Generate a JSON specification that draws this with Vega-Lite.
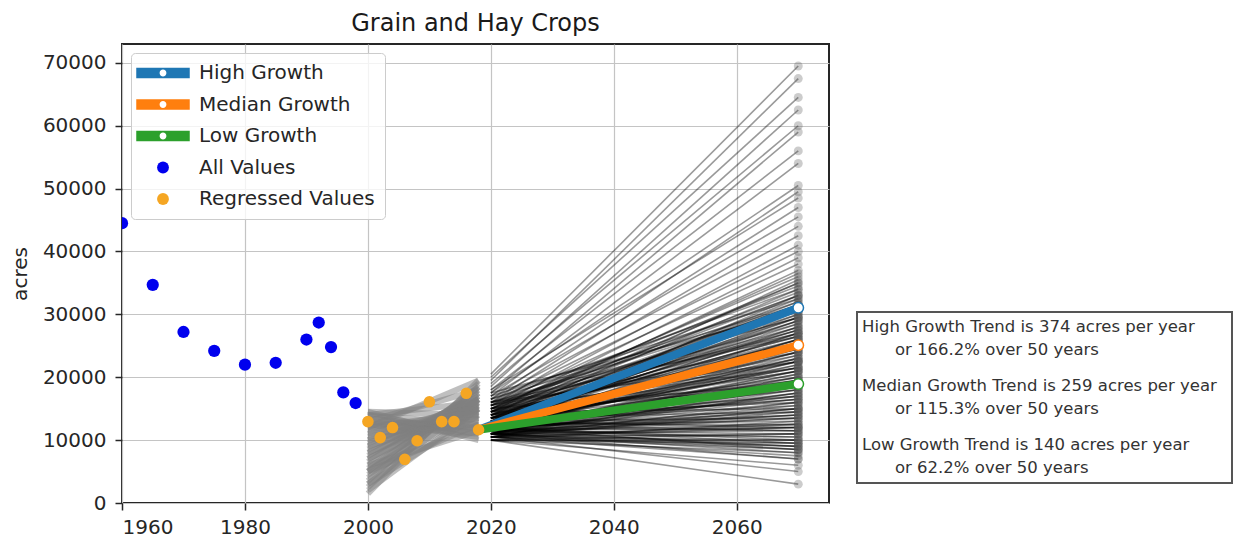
{
  "$schema": "https://vega.github.io/schema/vega-lite/v6.json",
  "background": "white",
  "padding": {"left": 9, "top": 11, "right": 0, "bottom": 0},
  "config": {
    "font": "DejaVu Sans",
    "view": {"stroke": null},
    "axis": {
      "grid": true, "gridColor": "#c4c4c4", "gridWidth": 1.2, "zindex": 1,
      "domain": false, "ticks": true, "tickSize": 7, "tickColor": "#262626", "tickWidth": 1.5,
      "labelFontSize": 20, "labelColor": "#262626", "labelFont": "DejaVu Sans",
      "titleFontSize": 20, "titleFontWeight": "normal", "titleColor": "#262626", "titleFont": "DejaVu Sans"
    }
  },
  "datasets": {
    "obs": [
      {"year": 1960, "acres": 44500, "series": "All Values"},
      {"year": 1965, "acres": 34700, "series": "All Values"},
      {"year": 1970, "acres": 27200, "series": "All Values"},
      {"year": 1975, "acres": 24200, "series": "All Values"},
      {"year": 1980, "acres": 22000, "series": "All Values"},
      {"year": 1985, "acres": 22300, "series": "All Values"},
      {"year": 1990, "acres": 26000, "series": "All Values"},
      {"year": 1992, "acres": 28700, "series": "All Values"},
      {"year": 1994, "acres": 24800, "series": "All Values"},
      {"year": 1996, "acres": 17600, "series": "All Values"},
      {"year": 1998, "acres": 15900, "series": "All Values"}
    ],
    "reg": [
      {"year": 2000, "acres": 12950, "series": "Regressed Values"},
      {"year": 2002, "acres": 10400, "series": "Regressed Values"},
      {"year": 2004, "acres": 12000, "series": "Regressed Values"},
      {"year": 2006, "acres": 6950, "series": "Regressed Values"},
      {"year": 2008, "acres": 9900, "series": "Regressed Values"},
      {"year": 2010, "acres": 16100, "series": "Regressed Values"},
      {"year": 2012, "acres": 12950, "series": "Regressed Values"},
      {"year": 2014, "acres": 12950, "series": "Regressed Values"},
      {"year": 2016, "acres": 17450, "series": "Regressed Values"},
      {"year": 2018, "acres": 11650, "series": "Regressed Values"}
    ],
    "growth": [
      {"series": "High Growth", "year": 2018, "acres": 11650},
      {"series": "High Growth", "year": 2070, "acres": 31050},
      {"series": "Median Growth", "year": 2018, "acres": 11650},
      {"series": "Median Growth", "year": 2070, "acres": 25100},
      {"series": "Low Growth", "year": 2018, "acres": 11650},
      {"series": "Low Growth", "year": 2070, "acres": 18920}
    ],
    "fits": [
      {"fit":1,"year":2000,"acres":1500},{"fit":1,"year":2018,"acres":19500},
      {"fit":2,"year":2000,"acres":2500},{"fit":2,"year":2018,"acres":18500},
      {"fit":3,"year":2000,"acres":3500},{"fit":3,"year":2018,"acres":19000},
      {"fit":4,"year":2000,"acres":4000},{"fit":4,"year":2018,"acres":17500},
      {"fit":5,"year":2000,"acres":5000},{"fit":5,"year":2018,"acres":18500},
      {"fit":6,"year":2000,"acres":5500},{"fit":6,"year":2018,"acres":17000},
      {"fit":7,"year":2000,"acres":6500},{"fit":7,"year":2018,"acres":18000},
      {"fit":8,"year":2000,"acres":7000},{"fit":8,"year":2018,"acres":16500},
      {"fit":9,"year":2000,"acres":7500},{"fit":9,"year":2018,"acres":17500},
      {"fit":10,"year":2000,"acres":8000},{"fit":10,"year":2018,"acres":16000},
      {"fit":11,"year":2000,"acres":8500},{"fit":11,"year":2018,"acres":17000},
      {"fit":12,"year":2000,"acres":9000},{"fit":12,"year":2018,"acres":15500},
      {"fit":13,"year":2000,"acres":9500},{"fit":13,"year":2018,"acres":16500},
      {"fit":14,"year":2000,"acres":10000},{"fit":14,"year":2018,"acres":15000},
      {"fit":15,"year":2000,"acres":10500},{"fit":15,"year":2018,"acres":14000},
      {"fit":16,"year":2000,"acres":11000},{"fit":16,"year":2018,"acres":15500},
      {"fit":17,"year":2000,"acres":11500},{"fit":17,"year":2018,"acres":13500},
      {"fit":18,"year":2000,"acres":12000},{"fit":18,"year":2018,"acres":14500},
      {"fit":19,"year":2000,"acres":12500},{"fit":19,"year":2018,"acres":13000},
      {"fit":20,"year":2000,"acres":13000},{"fit":20,"year":2018,"acres":12000},
      {"fit":21,"year":2000,"acres":13500},{"fit":21,"year":2018,"acres":11500},
      {"fit":22,"year":2000,"acres":14000},{"fit":22,"year":2018,"acres":11000},
      {"fit":23,"year":2000,"acres":14500},{"fit":23,"year":2018,"acres":10000},
      {"fit":24,"year":2000,"acres":13000},{"fit":24,"year":2018,"acres":10500},
      {"fit":25,"year":2000,"acres":12000},{"fit":25,"year":2018,"acres":12000},
      {"fit":26,"year":2000,"acres":11000},{"fit":26,"year":2018,"acres":12500},
      {"fit":27,"year":2000,"acres":10000},{"fit":27,"year":2018,"acres":13500},
      {"fit":28,"year":2000,"acres":9000},{"fit":28,"year":2018,"acres":14500},
      {"fit":29,"year":2000,"acres":8000},{"fit":29,"year":2018,"acres":15000},
      {"fit":30,"year":2000,"acres":7000},{"fit":30,"year":2018,"acres":15500},
      {"fit":31,"year":2000,"acres":6000},{"fit":31,"year":2018,"acres":16000},
      {"fit":32,"year":2000,"acres":5000},{"fit":32,"year":2018,"acres":16500},
      {"fit":33,"year":2000,"acres":4500},{"fit":33,"year":2018,"acres":15000},
      {"fit":34,"year":2000,"acres":3000},{"fit":34,"year":2018,"acres":16500},
      {"fit":35,"year":2000,"acres":14000},{"fit":35,"year":2018,"acres":12500},
      {"fit":36,"year":2000,"acres":12500},{"fit":36,"year":2018,"acres":11000},
      {"fit":37,"year":2000,"acres":3000},{"fit":37,"year":2018,"acres":14000},
      {"fit":38,"year":2000,"acres":5000},{"fit":38,"year":2018,"acres":12500},
      {"fit":39,"year":2000,"acres":6000},{"fit":39,"year":2018,"acres":11500},
      {"fit":40,"year":2000,"acres":2000},{"fit":40,"year":2018,"acres":15000},
      {"fit":41,"year":2000,"acres":14000},{"fit":41,"year":2018,"acres":16000},
      {"fit":42,"year":2000,"acres":13000},{"fit":42,"year":2018,"acres":18000},
      {"fit":43,"year":2000,"acres":12000},{"fit":43,"year":2018,"acres":19500},
      {"fit":44,"year":2000,"acres":14500},{"fit":44,"year":2018,"acres":14000}
    ],
    "proj": [
      {"sim":1,"year":2020,"acres":20500},{"sim":1,"year":2070,"acres":69500},
      {"sim":2,"year":2020,"acres":19500},{"sim":2,"year":2070,"acres":67500},
      {"sim":3,"year":2020,"acres":20000},{"sim":3,"year":2070,"acres":64500},
      {"sim":4,"year":2020,"acres":18500},{"sim":4,"year":2070,"acres":62500},
      {"sim":5,"year":2020,"acres":19000},{"sim":5,"year":2070,"acres":60000},
      {"sim":6,"year":2020,"acres":17500},{"sim":6,"year":2070,"acres":59000},
      {"sim":7,"year":2020,"acres":18000},{"sim":7,"year":2070,"acres":56000},
      {"sim":8,"year":2020,"acres":17000},{"sim":8,"year":2070,"acres":54000},
      {"sim":9,"year":2020,"acres":17500},{"sim":9,"year":2070,"acres":50500},
      {"sim":10,"year":2020,"acres":16500},{"sim":10,"year":2070,"acres":49500},
      {"sim":11,"year":2020,"acres":18000},{"sim":11,"year":2070,"acres":48500},
      {"sim":12,"year":2020,"acres":16000},{"sim":12,"year":2070,"acres":47000},
      {"sim":13,"year":2020,"acres":17000},{"sim":13,"year":2070,"acres":45500},
      {"sim":14,"year":2020,"acres":15500},{"sim":14,"year":2070,"acres":44000},
      {"sim":15,"year":2020,"acres":16500},{"sim":15,"year":2070,"acres":42500},
      {"sim":16,"year":2020,"acres":15000},{"sim":16,"year":2070,"acres":41000},
      {"sim":17,"year":2020,"acres":16000},{"sim":17,"year":2070,"acres":40000},
      {"sim":18,"year":2020,"acres":14500},{"sim":18,"year":2070,"acres":39000},
      {"sim":19,"year":2020,"acres":15500},{"sim":19,"year":2070,"acres":38000},
      {"sim":20,"year":2020,"acres":14000},{"sim":20,"year":2070,"acres":37000},
      {"sim":21,"year":2020,"acres":15000},{"sim":21,"year":2070,"acres":36000},
      {"sim":22,"year":2020,"acres":14000},{"sim":22,"year":2070,"acres":35000},
      {"sim":23,"year":2020,"acres":16000},{"sim":23,"year":2070,"acres":34500},
      {"sim":24,"year":2020,"acres":13500},{"sim":24,"year":2070,"acres":34000},
      {"sim":25,"year":2020,"acres":15000},{"sim":25,"year":2070,"acres":33500},
      {"sim":26,"year":2020,"acres":14500},{"sim":26,"year":2070,"acres":33000},
      {"sim":27,"year":2020,"acres":13000},{"sim":27,"year":2070,"acres":32500},
      {"sim":28,"year":2020,"acres":15500},{"sim":28,"year":2070,"acres":32000},
      {"sim":29,"year":2020,"acres":14000},{"sim":29,"year":2070,"acres":31500},
      {"sim":30,"year":2020,"acres":13000},{"sim":30,"year":2070,"acres":31000},
      {"sim":31,"year":2020,"acres":12500},{"sim":31,"year":2070,"acres":30500},
      {"sim":32,"year":2020,"acres":14500},{"sim":32,"year":2070,"acres":30000},
      {"sim":33,"year":2020,"acres":13500},{"sim":33,"year":2070,"acres":29500},
      {"sim":34,"year":2020,"acres":12000},{"sim":34,"year":2070,"acres":29000},
      {"sim":35,"year":2020,"acres":15000},{"sim":35,"year":2070,"acres":28500},
      {"sim":36,"year":2020,"acres":13000},{"sim":36,"year":2070,"acres":28000},
      {"sim":37,"year":2020,"acres":12500},{"sim":37,"year":2070,"acres":27500},
      {"sim":38,"year":2020,"acres":14000},{"sim":38,"year":2070,"acres":27000},
      {"sim":39,"year":2020,"acres":13500},{"sim":39,"year":2070,"acres":26500},
      {"sim":40,"year":2020,"acres":12000},{"sim":40,"year":2070,"acres":26000},
      {"sim":41,"year":2020,"acres":11500},{"sim":41,"year":2070,"acres":25500},
      {"sim":42,"year":2020,"acres":13000},{"sim":42,"year":2070,"acres":25000},
      {"sim":43,"year":2020,"acres":14500},{"sim":43,"year":2070,"acres":24500},
      {"sim":44,"year":2020,"acres":12500},{"sim":44,"year":2070,"acres":24000},
      {"sim":45,"year":2020,"acres":11500},{"sim":45,"year":2070,"acres":23500},
      {"sim":46,"year":2020,"acres":13500},{"sim":46,"year":2070,"acres":23000},
      {"sim":47,"year":2020,"acres":12000},{"sim":47,"year":2070,"acres":22500},
      {"sim":48,"year":2020,"acres":11000},{"sim":48,"year":2070,"acres":22000},
      {"sim":49,"year":2020,"acres":12500},{"sim":49,"year":2070,"acres":21500},
      {"sim":50,"year":2020,"acres":13000},{"sim":50,"year":2070,"acres":21000},
      {"sim":51,"year":2020,"acres":11500},{"sim":51,"year":2070,"acres":20500},
      {"sim":52,"year":2020,"acres":12000},{"sim":52,"year":2070,"acres":20000},
      {"sim":53,"year":2020,"acres":10500},{"sim":53,"year":2070,"acres":19500},
      {"sim":54,"year":2020,"acres":11500},{"sim":54,"year":2070,"acres":19000},
      {"sim":55,"year":2020,"acres":12500},{"sim":55,"year":2070,"acres":18500},
      {"sim":56,"year":2020,"acres":11000},{"sim":56,"year":2070,"acres":18000},
      {"sim":57,"year":2020,"acres":10500},{"sim":57,"year":2070,"acres":17500},
      {"sim":58,"year":2020,"acres":12000},{"sim":58,"year":2070,"acres":17000},
      {"sim":59,"year":2020,"acres":11500},{"sim":59,"year":2070,"acres":16500},
      {"sim":60,"year":2020,"acres":10500},{"sim":60,"year":2070,"acres":16000},
      {"sim":61,"year":2020,"acres":11000},{"sim":61,"year":2070,"acres":15500},
      {"sim":62,"year":2020,"acres":12000},{"sim":62,"year":2070,"acres":15000},
      {"sim":63,"year":2020,"acres":10500},{"sim":63,"year":2070,"acres":14500},
      {"sim":64,"year":2020,"acres":11500},{"sim":64,"year":2070,"acres":14000},
      {"sim":65,"year":2020,"acres":11000},{"sim":65,"year":2070,"acres":13500},
      {"sim":66,"year":2020,"acres":10000},{"sim":66,"year":2070,"acres":13000},
      {"sim":67,"year":2020,"acres":11500},{"sim":67,"year":2070,"acres":12500},
      {"sim":68,"year":2020,"acres":10500},{"sim":68,"year":2070,"acres":12000},
      {"sim":69,"year":2020,"acres":11000},{"sim":69,"year":2070,"acres":11500},
      {"sim":70,"year":2020,"acres":10000},{"sim":70,"year":2070,"acres":11000},
      {"sim":71,"year":2020,"acres":11000},{"sim":71,"year":2070,"acres":10500},
      {"sim":72,"year":2020,"acres":10500},{"sim":72,"year":2070,"acres":10000},
      {"sim":73,"year":2020,"acres":10000},{"sim":73,"year":2070,"acres":9500},
      {"sim":74,"year":2020,"acres":11000},{"sim":74,"year":2070,"acres":9000},
      {"sim":75,"year":2020,"acres":10500},{"sim":75,"year":2070,"acres":8500},
      {"sim":76,"year":2020,"acres":10000},{"sim":76,"year":2070,"acres":8000},
      {"sim":77,"year":2020,"acres":10500},{"sim":77,"year":2070,"acres":7500},
      {"sim":78,"year":2020,"acres":11000},{"sim":78,"year":2070,"acres":7000},
      {"sim":79,"year":2020,"acres":10000},{"sim":79,"year":2070,"acres":6000},
      {"sim":80,"year":2020,"acres":10500},{"sim":80,"year":2070,"acres":5000},
      {"sim":81,"year":2020,"acres":10000},{"sim":81,"year":2070,"acres":3000},
      {"sim":82,"year":2020,"acres":13500},{"sim":82,"year":2070,"acres":31500},
      {"sim":83,"year":2020,"acres":12000},{"sim":83,"year":2070,"acres":30000},
      {"sim":84,"year":2020,"acres":14000},{"sim":84,"year":2070,"acres":29000},
      {"sim":85,"year":2020,"acres":12500},{"sim":85,"year":2070,"acres":28500},
      {"sim":86,"year":2020,"acres":13500},{"sim":86,"year":2070,"acres":27500},
      {"sim":87,"year":2020,"acres":11000},{"sim":87,"year":2070,"acres":27000},
      {"sim":88,"year":2020,"acres":12500},{"sim":88,"year":2070,"acres":26000},
      {"sim":89,"year":2020,"acres":14000},{"sim":89,"year":2070,"acres":25500},
      {"sim":90,"year":2020,"acres":12000},{"sim":90,"year":2070,"acres":24500},
      {"sim":91,"year":2020,"acres":13000},{"sim":91,"year":2070,"acres":24000},
      {"sim":92,"year":2020,"acres":11500},{"sim":92,"year":2070,"acres":23000},
      {"sim":93,"year":2020,"acres":12500},{"sim":93,"year":2070,"acres":22000},
      {"sim":94,"year":2020,"acres":14000},{"sim":94,"year":2070,"acres":21500},
      {"sim":95,"year":2020,"acres":11000},{"sim":95,"year":2070,"acres":21000},
      {"sim":96,"year":2020,"acres":12000},{"sim":96,"year":2070,"acres":19500},
      {"sim":97,"year":2020,"acres":13500},{"sim":97,"year":2070,"acres":20000},
      {"sim":98,"year":2020,"acres":11000},{"sim":98,"year":2070,"acres":19000},
      {"sim":99,"year":2020,"acres":12500},{"sim":99,"year":2070,"acres":18000},
      {"sim":100,"year":2020,"acres":10500},{"sim":100,"year":2070,"acres":18500},
      {"sim":101,"year":2020,"acres":11500},{"sim":101,"year":2070,"acres":17000},
      {"sim":102,"year":2020,"acres":13000},{"sim":102,"year":2070,"acres":16500},
      {"sim":103,"year":2020,"acres":10500},{"sim":103,"year":2070,"acres":15000},
      {"sim":104,"year":2020,"acres":12000},{"sim":104,"year":2070,"acres":14500},
      {"sim":105,"year":2020,"acres":11000},{"sim":105,"year":2070,"acres":14000},
      {"sim":106,"year":2020,"acres":12500},{"sim":106,"year":2070,"acres":13000},
      {"sim":107,"year":2020,"acres":10500},{"sim":107,"year":2070,"acres":12500},
      {"sim":108,"year":2020,"acres":11500},{"sim":108,"year":2070,"acres":11000},
      {"sim":109,"year":2020,"acres":10000},{"sim":109,"year":2070,"acres":10000},
      {"sim":110,"year":2020,"acres":12000},{"sim":110,"year":2070,"acres":9500},
      {"sim":111,"year":2020,"acres":11000},{"sim":111,"year":2070,"acres":8000},
      {"sim":112,"year":2020,"acres":10500},{"sim":112,"year":2070,"acres":7000},
      {"sim":113,"year":2020,"acres":13000},{"sim":113,"year":2070,"acres":35500},
      {"sim":114,"year":2020,"acres":15000},{"sim":114,"year":2070,"acres":35000},
      {"sim":115,"year":2020,"acres":16500},{"sim":115,"year":2070,"acres":34000},
      {"sim":116,"year":2020,"acres":17000},{"sim":116,"year":2070,"acres":32500},
      {"sim":117,"year":2020,"acres":14500},{"sim":117,"year":2070,"acres":36500},
      {"sim":118,"year":2020,"acres":16000},{"sim":118,"year":2070,"acres":31000},
      {"sim":119,"year":2020,"acres":15500},{"sim":119,"year":2070,"acres":29500},
      {"sim":120,"year":2020,"acres":17500},{"sim":120,"year":2070,"acres":30500},
      {"sim":121,"year":2020,"acres":12000},{"sim":121,"year":2070,"acres":33000},
      {"sim":122,"year":2020,"acres":13500},{"sim":122,"year":2070,"acres":32000},
      {"sim":123,"year":2020,"acres":11500},{"sim":123,"year":2070,"acres":31000},
      {"sim":124,"year":2020,"acres":14500},{"sim":124,"year":2070,"acres":31500},
      {"sim":125,"year":2020,"acres":12500},{"sim":125,"year":2070,"acres":29500},
      {"sim":126,"year":2020,"acres":13000},{"sim":126,"year":2070,"acres":29000},
      {"sim":127,"year":2020,"acres":11500},{"sim":127,"year":2070,"acres":28000},
      {"sim":128,"year":2020,"acres":14500},{"sim":128,"year":2070,"acres":28000},
      {"sim":129,"year":2020,"acres":12000},{"sim":129,"year":2070,"acres":27000},
      {"sim":130,"year":2020,"acres":13500},{"sim":130,"year":2070,"acres":26500},
      {"sim":131,"year":2020,"acres":11000},{"sim":131,"year":2070,"acres":26000},
      {"sim":132,"year":2020,"acres":14000},{"sim":132,"year":2070,"acres":26000},
      {"sim":133,"year":2020,"acres":12500},{"sim":133,"year":2070,"acres":25000},
      {"sim":134,"year":2020,"acres":13000},{"sim":134,"year":2070,"acres":24500},
      {"sim":135,"year":2020,"acres":11500},{"sim":135,"year":2070,"acres":24000},
      {"sim":136,"year":2020,"acres":14000},{"sim":136,"year":2070,"acres":23500},
      {"sim":137,"year":2020,"acres":12000},{"sim":137,"year":2070,"acres":23000},
      {"sim":138,"year":2020,"acres":13000},{"sim":138,"year":2070,"acres":22500},
      {"sim":139,"year":2020,"acres":11000},{"sim":139,"year":2070,"acres":22500},
      {"sim":140,"year":2020,"acres":12500},{"sim":140,"year":2070,"acres":21500},
      {"sim":141,"year":2020,"acres":13500},{"sim":141,"year":2070,"acres":21000},
      {"sim":142,"year":2020,"acres":11500},{"sim":142,"year":2070,"acres":21000},
      {"sim":143,"year":2020,"acres":12000},{"sim":143,"year":2070,"acres":20500},
      {"sim":144,"year":2020,"acres":13000},{"sim":144,"year":2070,"acres":19500},
      {"sim":145,"year":2020,"acres":11000},{"sim":145,"year":2070,"acres":20000},
      {"sim":146,"year":2020,"acres":12500},{"sim":146,"year":2070,"acres":19000},
      {"sim":147,"year":2020,"acres":11500},{"sim":147,"year":2070,"acres":18500},
      {"sim":148,"year":2020,"acres":13000},{"sim":148,"year":2070,"acres":18000},
      {"sim":149,"year":2020,"acres":12000},{"sim":149,"year":2070,"acres":17500},
      {"sim":150,"year":2020,"acres":11000},{"sim":150,"year":2070,"acres":17500},
      {"sim":151,"year":2020,"acres":12500},{"sim":151,"year":2070,"acres":16500},
      {"sim":152,"year":2020,"acres":11500},{"sim":152,"year":2070,"acres":16000},
      {"sim":153,"year":2020,"acres":13000},{"sim":153,"year":2070,"acres":15500},
      {"sim":154,"year":2020,"acres":11000},{"sim":154,"year":2070,"acres":15000},
      {"sim":155,"year":2020,"acres":12000},{"sim":155,"year":2070,"acres":14000},
      {"sim":156,"year":2020,"acres":11500},{"sim":156,"year":2070,"acres":13500},
      {"sim":157,"year":2020,"acres":12500},{"sim":157,"year":2070,"acres":12500},
      {"sim":158,"year":2020,"acres":11000},{"sim":158,"year":2070,"acres":12000},
      {"sim":159,"year":2020,"acres":12000},{"sim":159,"year":2070,"acres":11500},
      {"sim":160,"year":2020,"acres":10500},{"sim":160,"year":2070,"acres":11000},
      {"sim":161,"year":2020,"acres":11500},{"sim":161,"year":2070,"acres":10500},
      {"sim":162,"year":2020,"acres":12000},{"sim":162,"year":2070,"acres":10000},
      {"sim":163,"year":2020,"acres":11000},{"sim":163,"year":2070,"acres":9500},
      {"sim":164,"year":2020,"acres":11500},{"sim":164,"year":2070,"acres":9000},
      {"sim":165,"year":2020,"acres":10500},{"sim":165,"year":2070,"acres":9000},
      {"sim":166,"year":2020,"acres":12000},{"sim":166,"year":2070,"acres":8500},
      {"sim":167,"year":2020,"acres":11000},{"sim":167,"year":2070,"acres":8500},
      {"sim":168,"year":2020,"acres":15500},{"sim":168,"year":2070,"acres":33000},
      {"sim":169,"year":2020,"acres":16500},{"sim":169,"year":2070,"acres":31500},
      {"sim":170,"year":2020,"acres":15000},{"sim":170,"year":2070,"acres":30500},
      {"sim":171,"year":2020,"acres":16000},{"sim":171,"year":2070,"acres":29500},
      {"sim":172,"year":2020,"acres":14500},{"sim":172,"year":2070,"acres":27500},
      {"sim":173,"year":2020,"acres":15500},{"sim":173,"year":2070,"acres":27000},
      {"sim":174,"year":2020,"acres":15000},{"sim":174,"year":2070,"acres":25500},
      {"sim":175,"year":2020,"acres":16000},{"sim":175,"year":2070,"acres":26500},
      {"sim":176,"year":2020,"acres":14500},{"sim":176,"year":2070,"acres":22500},
      {"sim":177,"year":2020,"acres":15500},{"sim":177,"year":2070,"acres":24000},
      {"sim":178,"year":2020,"acres":15000},{"sim":178,"year":2070,"acres":21500},
      {"sim":179,"year":2020,"acres":14000},{"sim":179,"year":2070,"acres":19500},
      {"sim":180,"year":2020,"acres":16000},{"sim":180,"year":2070,"acres":22500},
      {"sim":181,"year":2020,"acres":14500},{"sim":181,"year":2070,"acres":18500},
      {"sim":182,"year":2020,"acres":13500},{"sim":182,"year":2070,"acres":17000},
      {"sim":183,"year":2020,"acres":15000},{"sim":183,"year":2070,"acres":19000},
      {"sim":184,"year":2020,"acres":14000},{"sim":184,"year":2070,"acres":16000},
      {"sim":185,"year":2020,"acres":13500},{"sim":185,"year":2070,"acres":14500},
      {"sim":186,"year":2020,"acres":14500},{"sim":186,"year":2070,"acres":15000},
      {"sim":187,"year":2020,"acres":13000},{"sim":187,"year":2070,"acres":13500},
      {"sim":188,"year":2020,"acres":12500},{"sim":188,"year":2070,"acres":11500},
      {"sim":189,"year":2020,"acres":13000},{"sim":189,"year":2070,"acres":12000},
      {"sim":190,"year":2020,"acres":11500},{"sim":190,"year":2070,"acres":12000}
    ],
    "notes": [
      {"trend": "High", "line1": "High Growth Trend is 374 acres per year", "line2": "or 166.2% over 50 years"},
      {"trend": "Median", "line1": "Median Growth Trend is 259 acres per year", "line2": "or 115.3% over 50 years"},
      {"trend": "Low", "line1": "Low Growth Trend is 140 acres per year", "line2": "or 62.2% over 50 years"}
    ]
  },
  "spacing": 26,
  "hconcat": [
    {
      "width": 707,
      "height": 459,
      "view": {"stroke": "#262626", "strokeWidth": 2},
      "title": {"text": "Grain and Hay Crops", "fontSize": 24, "fontWeight": "normal", "color": "#1a1a1a", "font": "DejaVu Sans", "anchor": "middle", "frame": "group", "offset": 8},
      "encoding": {
        "x": {"field": "year", "type": "quantitative", "scale": {"domain": [1960, 2075], "nice": false, "zero": false}, "axis": {"values": [1960, 1980, 2000, 2020, 2040, 2060], "format": "d", "title": null, "labelPadding": 7}},
        "y": {"field": "acres", "type": "quantitative", "scale": {"domain": [0, 73000], "nice": false}, "axis": {"values": [0, 10000, 20000, 30000, 40000, 50000, 60000, 70000], "format": "d", "title": "acres", "labelPadding": 9, "titlePadding": 12}}
      },
      "layer": [
        {
          "data": {"name": "fits"},
          "mark": {"type": "line", "color": "#808080", "opacity": 0.5, "strokeWidth": 6, "clip": true},
          "encoding": {"detail": {"field": "fit", "type": "nominal"}}
        },
        {
          "data": {"name": "proj"},
          "mark": {"type": "line", "color": "#000000", "opacity": 0.4, "strokeWidth": 1.6, "clip": true},
          "encoding": {"detail": {"field": "sim", "type": "nominal"}}
        },
        {
          "data": {"name": "proj"},
          "transform": [{"filter": "datum.year == 2070"}],
          "mark": {"type": "point", "filled": true, "color": "#555555", "opacity": 0.3, "size": 80, "clip": true},
          "encoding": {}
        },
        {
          "data": {"name": "growth"},
          "mark": {"type": "line", "strokeWidth": 8, "clip": true},
          "encoding": {
            "color": {
              "field": "series", "type": "nominal",
              "scale": {"domain": ["High Growth", "Median Growth", "Low Growth", "All Values", "Regressed Values"], "range": ["#1f77b4", "#ff7f0e", "#2ca02c", "#0000ee", "#f5a623"]},
              "legend": {
                "title": null, "orient": "top-left", "offset": 9,
                "labelFontSize": 20, "labelColor": "#262626", "labelFont": "DejaVu Sans", "labelLimit": 400,
                "symbolSize": 2704, "symbolOffset": 12, "labelOffset": 26, "rowPadding": 11.5, "padding": 10,
                "fillColor": "rgba(255,255,255,0.8)", "strokeColor": "#cccccc", "cornerRadius": 4,
                "encode": {
                  "symbols": {
                    "update": {
                      "shape": {"signal": "datum.value == 'All Values' || datum.value == 'Regressed Values' ? 'circle' : 'M-1,-0.17H1V0.17H-1Z M0.16,0A0.16,0.16 0 1 0 -0.16,0A0.16,0.16 0 1 0 0.16,0Z'"},
                      "size": {"signal": "datum.value == 'All Values' || datum.value == 'Regressed Values' ? 140 : 2704"},
                      "strokeWidth": {"signal": "datum.value == 'All Values' || datum.value == 'Regressed Values' ? 0 : 1.5"},
                      "fill": {"scale": "color", "field": "value"},
                      "stroke": {"scale": "color", "field": "value"},
                      "opacity": {"value": 1}
                    }
                  }
                }
              }
            },
            "detail": {"field": "series", "type": "nominal"}
          }
        },
        {
          "data": {"name": "growth"},
          "transform": [{"filter": "datum.year == 2070"}],
          "mark": {"type": "point", "filled": false, "fill": "white", "fillOpacity": 1, "size": 110, "strokeWidth": 1.5, "opacity": 1, "clip": true},
          "encoding": {
            "color": {"field": "series", "type": "nominal", "legend": null}
          }
        },
        {
          "data": {"name": "obs"},
          "mark": {"type": "point", "filled": true, "size": 150, "opacity": 1, "clip": true},
          "encoding": {"color": {"field": "series", "type": "nominal"}}
        },
        {
          "data": {"name": "reg"},
          "mark": {"type": "point", "filled": true, "size": 135, "opacity": 1, "clip": true},
          "encoding": {"color": {"field": "series", "type": "nominal"}}
        }
      ]
    },
    {
      "spacing": 0,
      "vconcat": [
        {
          "width": 375,
          "height": 267,
          "data": {"values": []},
          "mark": "point",
          "encoding": {}
        },
        {
          "width": 375,
          "height": 171,
          "view": {"stroke": "#555555", "strokeWidth": 2},
          "data": {"name": "notes"},
          "encoding": {
            "x": {"datum": 0, "type": "quantitative", "scale": {"domain": [0, 1]}, "axis": null},
            "y": {"field": "trend", "type": "nominal", "sort": null, "scale": {"type": "point", "padding": 0.45}, "axis": null}
          },
          "layer": [
            {
              "mark": {"type": "text", "align": "left", "baseline": "middle", "dx": 5, "dy": -11.25, "fontSize": 16.5, "color": "#333333", "font": "DejaVu Sans"},
              "encoding": {"text": {"field": "line1", "type": "nominal"}}
            },
            {
              "mark": {"type": "text", "align": "left", "baseline": "middle", "dx": 38, "dy": 11.25, "fontSize": 16.5, "color": "#333333", "font": "DejaVu Sans"},
              "encoding": {"text": {"field": "line2", "type": "nominal"}}
            }
          ]
        }
      ]
    }
  ]
}
